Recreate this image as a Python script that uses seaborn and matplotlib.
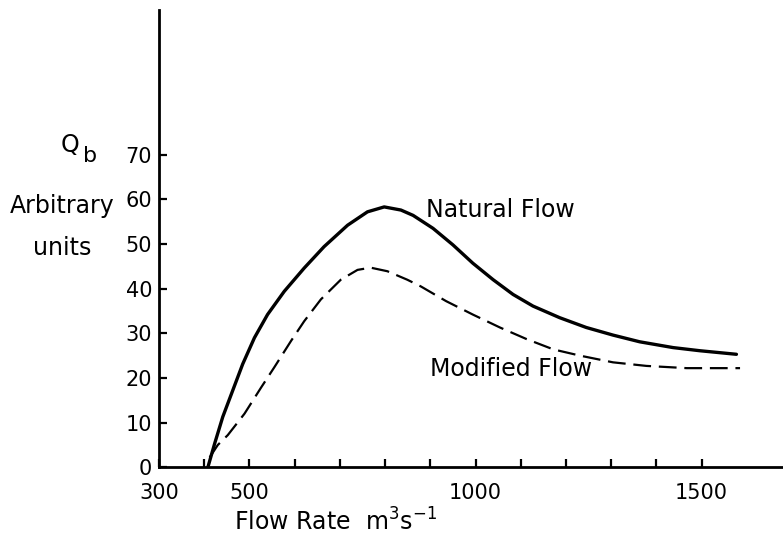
import numpy as np
import pandas as pd
import matplotlib
matplotlib.use("Agg")
import matplotlib.pyplot as plt
import seaborn as sns


# -----------------------------
natural_x = [408, 423, 441, 463, 485, 511, 540, 577, 621, 665, 717, 761, 798,
             835, 862, 906, 950, 994, 1039, 1083, 1127, 1186, 1245, 1304,
             1363, 1437, 1496, 1577]
natural_y = [0.0, 5.3, 11.3, 17.2, 23.1, 29.0, 34.2, 39.4, 44.6, 49.4, 54.2,
             57.2, 58.3, 57.6, 56.4, 53.5, 49.8, 45.7, 42.0, 38.7, 36.1, 33.5,
             31.3, 29.6, 28.1, 26.8, 26.1, 25.3]

modified_x = [412, 419, 430, 452, 489, 526, 555, 592, 621, 658, 702, 739, 768,
              805, 849, 879, 935, 994, 1054, 1113, 1172, 1231, 1304, 1378,
              1467, 1585]
modified_y = [2.2, 3.3, 5.0, 7.2, 12.0, 17.9, 22.4, 28.3, 32.7, 37.6, 42.0,
              44.2, 44.7, 43.9, 42.0, 40.5, 37.2, 34.2, 31.3, 28.7, 26.4, 25.0,
              23.5, 22.7, 22.2, 22.2]

y_ticks = [0, 10, 20, 30, 40, 50, 60, 70]
x_minor = [400, 600, 700, 800, 900, 1100, 1200, 1300, 1400]
x_major = [300, 500, 1000, 1500]

natural = pd.DataFrame({"flow": natural_x, "qb": natural_y})
modified = pd.DataFrame({"flow": modified_x, "qb": modified_y})


# -----------------------------
sns.set_style("ticks")
plt.rcParams["font.family"] = ["DejaVu Sans"]
plt.rcParams["text.color"] = "black"
plt.rcParams["xtick.color"] = "black"
plt.rcParams["ytick.color"] = "black"

fig = plt.figure(figsize=(7.83, 5.36), dpi=100)
ax = fig.add_axes([0.2031, 0.1282, 0.7969, 0.8532])

sns.lineplot(data=natural, x="flow", y="qb", ax=ax, color="black",
             linewidth=2.4, sort=False)
sns.lineplot(data=modified, x="flow", y="qb", ax=ax, color="black",
             linewidth=1.6, sort=False)
ax.lines[-1].set_dashes((8, 3.5))

ax.set_xlim(300, 1680)
ax.set_ylim(0, 102.4)

ax.set_yticks(y_ticks)
ax.set_yticklabels([str(v) for v in y_ticks])
ax.set_xticks(x_major)
ax.set_xticklabels([str(v) for v in x_major])
ax.set_xticks(x_minor, minor=True)
ax.tick_params(axis="both", which="both", direction="in", labelsize=15,
               width=1.6, length=6)
ax.tick_params(axis="x", which="both", pad=11)
ax.tick_params(axis="y", pad=5)

sns.despine(ax=ax)
for s in ["left", "bottom"]:
    ax.spines[s].set_linewidth(2.0)
    ax.spines[s].set_color("black")

ax.set_xlabel("")
ax.set_ylabel("")

# curve labels
ax.text(891, 57.6, "Natural Flow", fontsize=17, va="center", ha="left")
ax.text(899, 22.0, "Modified Flow", fontsize=17, va="center", ha="left")

# axis titles
fig.text(61 / 783, 1 - 152 / 536, "Q", fontsize=17, ha="left", va="baseline")
fig.text(83 / 783, 1 - 162 / 536, "b", fontsize=16, ha="left", va="baseline")
fig.text(62 / 783, 1 - 213 / 536, "Arbitrary", fontsize=17, ha="center", va="baseline")
fig.text(62 / 783, 1 - 255 / 536, "units", fontsize=17, ha="center", va="baseline")
fig.text(234 / 783, 1 - 531 / 536,
         "Flow Rate  m$^\\mathregular{3}$s$^\\mathregular{-1}$",
         fontsize=17, ha="left", va="baseline")

fig.savefig("out.png", dpi=100)
